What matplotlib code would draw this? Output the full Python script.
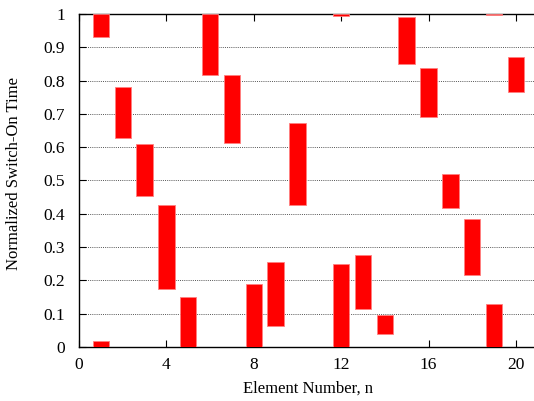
import matplotlib
matplotlib.use("Agg")
import matplotlib.pyplot as plt
import numpy as np

plt.rcParams["font.family"] = ["Liberation Serif", "DejaVu Serif"]

# switch-on window per element (normalized); end < start means it wraps past 1
elements = np.arange(1, 21)
on_start = [0.932, 0.628, 0.454, 0.173, 0.000, 0.817, 0.614, 0.000, 0.064, 0.426,
            0.000, 0.995, 0.113, 0.040, 0.850, 0.691, 0.416, 0.216, 0.997, 0.767]
on_end = [0.019, 0.780, 0.611, 0.426, 0.149, 1.000, 0.818, 0.188, 0.255, 0.672,
          0.000, 0.250, 0.277, 0.097, 0.991, 0.838, 0.519, 0.383, 0.129, 0.872]

yticks = np.round(np.arange(0, 1.01, 0.1), 1)
ytick_labels = ["0", "0.1", "0.2", "0.3", "0.4", "0.5", "0.6", "0.7", "0.8", "0.9", "1"]
xticks = [0, 4, 8, 12, 16, 20]

fig = plt.figure(figsize=(5.34, 4.01), dpi=100)
ax = fig.add_axes([0.148, 0.135, 0.859, 0.83])

# split wrapped windows into an upper and a lower piece
lo1, hi1, lo2, hi2 = [], [], [], []
for s, e in zip(on_start, on_end):
    if e < s:
        lo1.append(s); hi1.append(1.0)
        lo2.append(0.0); hi2.append(e)
    else:
        lo1.append(s); hi1.append(e)
        lo2.append(0.0); hi2.append(0.0)
lo1, hi1, lo2, hi2 = map(np.array, (lo1, hi1, lo2, hi2))

width = 0.75
for lo, hi in ((lo1, hi1), (lo2, hi2)):
    h = hi - lo
    solid = h > 0
    ax.bar(elements[solid], h[solid], bottom=lo[solid], width=width,
           color="#ff0000", edgecolor="#ff8080", linewidth=0.6, zorder=3)
    flat = ~solid
    ax.bar(elements[flat], h[flat], bottom=lo[flat], width=width,
           color="#ff0000", edgecolor="#cc3333", linewidth=0.5, alpha=0.6, zorder=3)

for y in yticks[1:-1]:
    ax.axhline(y, color="#555555", linestyle=(0, (1, 1.2)), linewidth=0.7, zorder=1)

ax.set_xlim(0, 21)
ax.set_ylim(0, 1)
ax.set_xticks(xticks)
ax.set_yticks(yticks)
ax.set_yticklabels(ytick_labels)
ax.tick_params(direction="in", length=5, width=0.8, labelsize=12.5,
               top=True, right=False, pad=7)
ax.tick_params(axis="y", pad=10)
for sp in ax.spines.values():
    sp.set_linewidth(1.0)

ax.set_xlabel("Element Number, n", fontsize=12, labelpad=6)
ax.set_ylabel("Normalized Switch-On Time", fontsize=12, labelpad=11)
ax.yaxis.set_label_coords(-0.125, 0.52)

fig.savefig("out.png", dpi=100)
